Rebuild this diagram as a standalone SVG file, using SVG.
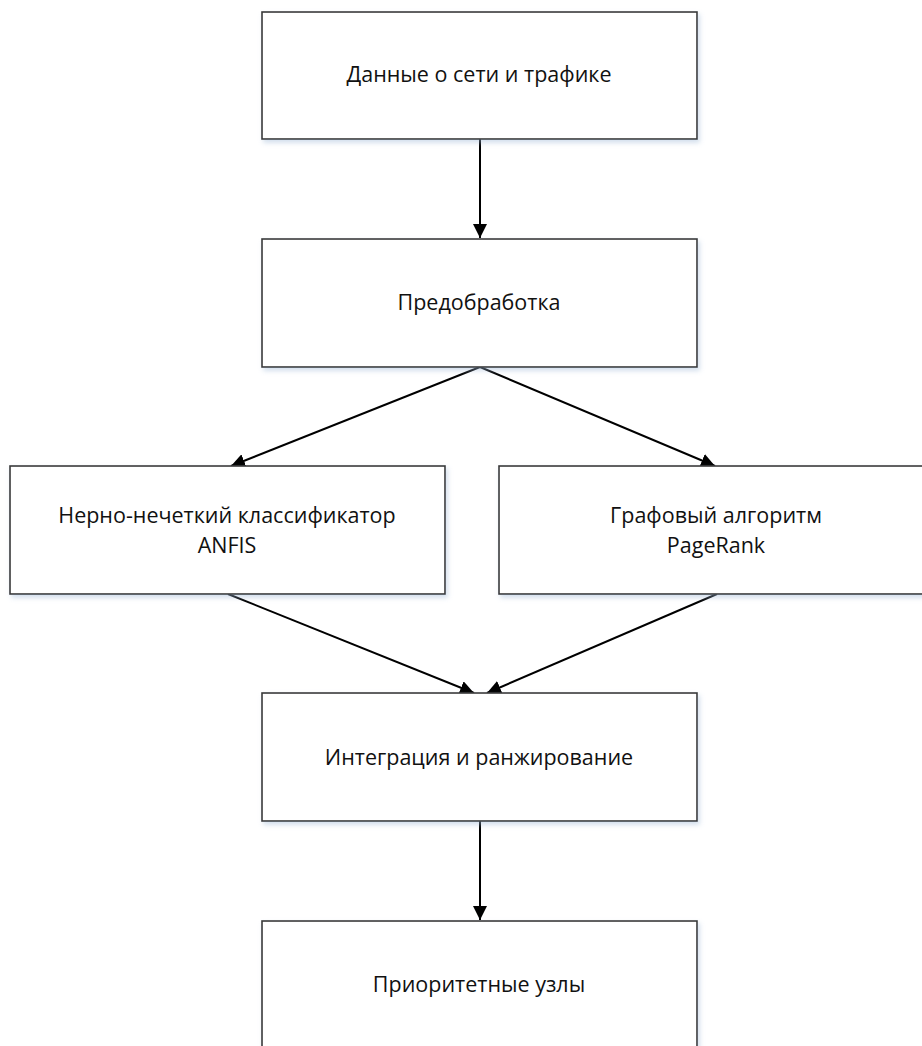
<svg xmlns="http://www.w3.org/2000/svg" width="922" height="1046" viewBox="0 0 922 1046">
<style>
.box{fill:#fff;stroke:#3a3a3a;stroke-width:1.6;filter:url(#sh)}
.t{font-family:"Open Sans","Liberation Sans",sans-serif;font-size:21.5px;fill:#111;text-anchor:middle}
.c{stroke:#000;stroke-width:2;fill:none;marker-end:url(#ah)}
</style>
<defs>
<filter id="sh" x="-5%" y="-5%" width="112%" height="115%">
<feDropShadow dx="2" dy="3" stdDeviation="2.5" flood-color="#9bb6d6" flood-opacity="0.45"/>
</filter>
<marker id="ah" viewBox="0 0 14 14" refX="14" refY="7" markerWidth="14" markerHeight="14" markerUnits="userSpaceOnUse" orient="auto">
<path d="M0,0 L14,7 L0,14 Z" fill="#000"/>
</marker>
</defs>
<g id="connectors">
<line class="c" x1="480" y1="139" x2="480" y2="238"/>
<line class="c" x1="480" y1="367" x2="231" y2="466"/>
<line class="c" x1="480" y1="367" x2="715" y2="466"/>
<line class="c" x1="228" y1="594" x2="474" y2="693"/>
<line class="c" x1="717" y1="594" x2="487" y2="693"/>
<line class="c" x1="480" y1="821" x2="480" y2="920"/>
</g>
<g id="n1"><rect class="box" x="262" y="12" width="435" height="127"/><text class="t" x="479" y="82">Данные о сети и трафике</text></g>
<g id="n2"><rect class="box" x="262" y="239" width="435" height="128"/><text class="t" x="479" y="310">Предобработка</text></g>
<g id="n3"><rect class="box" x="10" y="466" width="435" height="128"/><text class="t" x="227" y="523">Нерно-нечеткий классификатор</text><text class="t" x="227" y="553">ANFIS</text></g>
<g id="n4"><rect class="box" x="499" y="466" width="435" height="128"/><text class="t" x="716" y="523">Графовый алгоритм</text><text class="t" x="716" y="553">PageRank</text></g>
<g id="n5"><rect class="box" x="262" y="693" width="435" height="128"/><text class="t" x="479" y="765">Интеграция и ранжирование</text></g>
<g id="n6"><rect class="box" x="262" y="921" width="435" height="128"/><text class="t" x="479" y="992">Приоритетные узлы</text></g>
</svg>
